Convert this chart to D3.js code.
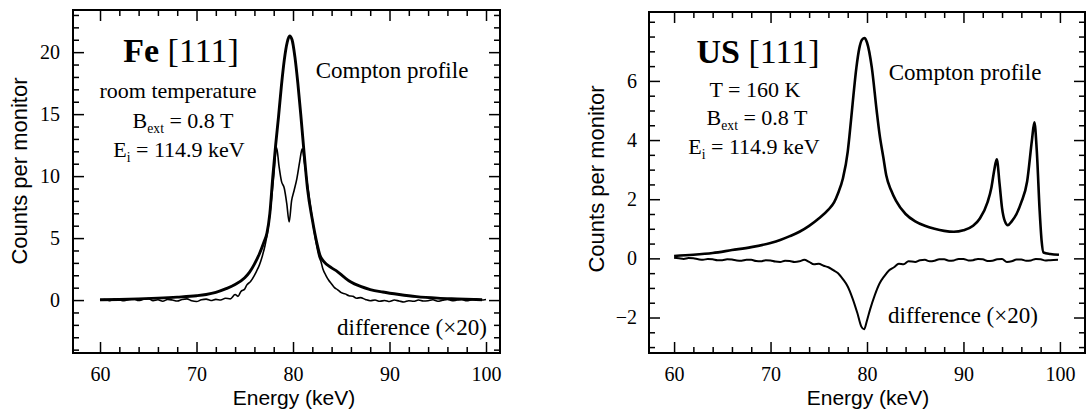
<!DOCTYPE html>
<html>
<head>
<meta charset="utf-8">
<script src="https://cdn.jsdelivr.net/npm/d3@7"></script>
<style>
  body { margin: 0; background: #fff; }
  svg { display: block; }
</style>
</head>
<body>
<svg id="chart" width="1090" height="419"></svg>
<script>
// ---- data: [energy keV, counts per monitor] ----
const feCompton = [
  [60, 0.02], [62, 0.05], [64, 0.1], [66, 0.16], [68, 0.24], [70, 0.35], [71, 0.45],
  [72, 0.62], [73, 0.9], [74, 1.25], [75, 1.8], [75.5, 2.25], [76, 2.9], [76.5, 3.7],
  [77, 4.7], [77.3, 5.4], [77.6, 7.0], [77.9, 9.9], [78.2, 12.5], [78.5, 14.8],
  [78.8, 17.3], [79.1, 19.4], [79.4, 20.8], [79.65, 21.3], [79.9, 21.0], [80.2, 19.6],
  [80.5, 17.5], [80.8, 15.0], [81.1, 12.3], [81.5, 9.0], [82, 6.5], [82.5, 4.5],
  [82.8, 3.6], [83.2, 3.1], [84, 2.6], [84.6, 2.3], [85.3, 1.85], [86, 1.45], [87, 1.1],
  [88, 0.85], [89.3, 0.65], [91, 0.45], [92.8, 0.28], [95, 0.16], [97, 0.1], [99.6, 0.03]
];

const feDifference = [
  [60, 0.0], [60.5, 0.05], [61, -0.05], [61.5, 0.08], [62, 0.0], [62.5, -0.06], [63, 0.05],
  [63.5, 0.1], [64, -0.04], [64.5, 0.06], [65, 0.12], [65.5, -0.05], [66, 0.02], [66.5, -0.1],
  [67, 0.05], [67.5, 0.0], [68, -0.08], [68.5, 0.04], [69, 0.1], [69.5, -0.06], [70, -0.12],
  [70.5, 0.02], [71, 0.08], [71.5, -0.04], [72, 0.06], [72.5, 0.0], [73, 0.15], [73.5, 0.1],
  [74, 0.45], [74.3, 0.3], [74.6, 0.7], [75, 0.9], [75.2, 1.2], [75.6, 1.5], [76, 2.0],
  [76.2, 2.3], [76.5, 2.8], [76.8, 3.5], [77.1, 4.4], [77.4, 5.7], [77.7, 7.6], [78, 10.0],
  [78.3, 12.3], [78.55, 10.8], [78.8, 9.6], [79.1, 9.0], [79.35, 7.8], [79.6, 6.3],
  [79.85, 8.0], [80.1, 8.8], [80.4, 9.8], [80.7, 11.2], [80.95, 12.2], [81.2, 11.0],
  [81.5, 9.3], [81.8, 7.6], [82.1, 6.0], [82.4, 4.6], [82.7, 3.5], [82.9, 3.1], [83.1, 2.5],
  [83.4, 2.0], [83.7, 1.6], [84, 1.3], [84.3, 1.0], [84.6, 0.85], [85, 0.6], [85.4, 0.5],
  [85.8, 0.35], [86.2, 0.3], [86.6, 0.15], [87, 0.2], [87.5, 0.05], [88, -0.05], [88.5, 0.0],
  [89, -0.1], [89.5, -0.03], [90, -0.12], [90.5, 0.0], [91, -0.08], [91.5, -0.15], [92, -0.05],
  [92.5, -0.1], [93, 0.0], [93.5, -0.08], [94, -0.05], [94.5, 0.02], [95, -0.1], [95.5, -0.02],
  [96, 0.05], [96.5, -0.06], [97, 0.0], [97.5, 0.04], [98, -0.05], [98.5, 0.03], [99, 0.08],
  [99.5, 0.0], [100, 0.05]
];

const usCompton = [
  [60, 0.08], [62, 0.12], [64, 0.18], [66, 0.28], [68, 0.38], [70, 0.52], [71, 0.62],
  [72, 0.75], [73, 0.9], [74, 1.1], [75, 1.35], [76, 1.65], [76.6, 1.9], [77, 2.2],
  [77.5, 2.7], [78, 3.6], [78.2, 4.2], [78.5, 5.2], [78.9, 6.45], [79.2, 7.1], [79.5, 7.4],
  [79.75, 7.45], [80, 7.3], [80.5, 6.45], [81, 5.0], [81.3, 4.2], [81.7, 3.4], [82, 2.8],
  [82.5, 2.3], [83, 1.95], [84, 1.5], [85, 1.25], [86, 1.1], [87, 1.0], [88, 0.93], [89, 0.9],
  [90, 0.95], [91, 1.1], [91.7, 1.35], [92.5, 1.9], [92.9, 2.4], [93.2, 3.0], [93.45, 3.35],
  [93.75, 2.5], [94.0, 1.7], [94.3, 1.25], [94.6, 1.12], [95, 1.25], [95.5, 1.5], [96, 1.9],
  [96.6, 2.6], [97.1, 4.0], [97.35, 4.6], [97.6, 3.65], [97.9, 1.6], [98.1, 0.6], [98.3, 0.2],
  [99, 0.15], [99.9, 0.12]
];

const usDifference = [
  [60, 0.02], [60.5, 0.0], [61, -0.02], [61.5, 0.01], [62, 0.0], [62.5, -0.03], [63, -0.05],
  [63.5, -0.02], [64, -0.03], [64.5, -0.06], [65, -0.06], [65.5, -0.03], [66, -0.04],
  [66.5, -0.07], [67, -0.08], [67.5, -0.05], [68, -0.05], [68.5, -0.09], [69, -0.1],
  [69.5, -0.06], [70, -0.07], [70.5, -0.11], [71, -0.12], [71.5, -0.08], [72, -0.09],
  [72.5, -0.12], [73, -0.1], [73.5, -0.05], [74, -0.12], [74.5, -0.2], [75, -0.18],
  [75.5, -0.25], [76, -0.3], [76.5, -0.4], [77, -0.5], [77.5, -0.7], [78, -0.95], [78.5, -1.35],
  [79, -1.85], [79.4, -2.3], [79.7, -2.4], [80, -2.1], [80.3, -1.75], [80.8, -1.25],
  [81.3, -0.85], [81.8, -0.6], [82.3, -0.4], [82.8, -0.3], [83.3, -0.18], [83.8, -0.2],
  [84.3, -0.1], [85, -0.12], [85.5, -0.06], [86, -0.05], [86.5, -0.1], [87, -0.08],
  [87.5, -0.03], [88, -0.03], [88.5, -0.08], [89, -0.07], [89.5, -0.02], [90, -0.02],
  [90.5, -0.07], [91, -0.06], [91.5, -0.02], [92, -0.03], [92.5, -0.09], [93, -0.08],
  [93.5, -0.03], [94, -0.02], [94.5, -0.12], [95, -0.1], [95.5, -0.04], [96, -0.04],
  [96.5, -0.08], [97, -0.07], [97.5, -0.02], [98, -0.03], [98.5, -0.07], [99, -0.06],
  [99.8, -0.05]
];

const xMajorTicks = [60, 70, 80, 90, 100];
const feYMajorTicks = [0, 5, 10, 15, 20];
const usYMajorTicks = [-2, 0, 2, 4, 6];

const serif = "'Liberation Serif', 'Times New Roman', serif";
const sans = "'Liberation Sans', Arial, sans-serif";

function styleAxis(sel) {
  sel.select(".domain").remove();
  sel.selectAll(".tick line").attr("stroke", "#000").attr("stroke-width", 1.5);
  sel.attr("font-family", serif).attr("font-size", 20);
  sel.selectAll("text").attr("fill", "#000");
}

function addLabel(g, x, y, parts, size) {
  const t = g.append("text")
    .attr("x", x)
    .attr("y", y)
    .attr("text-anchor", "middle")
    .attr("font-family", serif)
    .attr("font-size", size)
    .attr("fill", "#000");
  parts.forEach((p) => {
    const s = t.append("tspan").text(p.text);
    if (p.bold) s.attr("font-weight", "bold");
    if (p.sub) s.attr("font-size", size * 0.62).attr("dy", 5);
    if (p.after) s.attr("dy", -5);
  });
}

function drawPanel(svg, p) {
  const x = d3.scaleLinear().domain(p.xDomain).range([p.left, p.right]);
  const y = d3.scaleLinear().domain(p.yDomain).range([p.bottom, p.top]);
  const g = svg.append("g");

  const xMinor = d3.range(60, 101, 2).filter((v) => !xMajorTicks.includes(v));
  const yMinor = d3.range(p.yMinorStart, p.yMinorEnd + 1e-9, p.yMinorStep)
    .filter((v) => !p.yMajor.some((m) => Math.abs(m - v) < 1e-9));

  // bottom
  g.append("g").attr("transform", `translate(0,${p.bottom})`)
    .call(d3.axisBottom(x).tickValues(xMinor).tickSize(-6).tickFormat(""))
    .call(styleAxis);
  g.append("g").attr("transform", `translate(0,${p.bottom})`)
    .call(d3.axisBottom(x).tickValues(xMajorTicks).tickSizeInner(-11).tickSizeOuter(0)
      .tickPadding(14).tickFormat(d3.format("d")))
    .call(styleAxis);
  // top
  g.append("g").attr("transform", `translate(0,${p.top})`)
    .call(d3.axisTop(x).tickValues(xMinor).tickSize(-6).tickFormat(""))
    .call(styleAxis);
  g.append("g").attr("transform", `translate(0,${p.top})`)
    .call(d3.axisTop(x).tickValues(xMajorTicks).tickSize(-11).tickFormat(""))
    .call(styleAxis);
  // left
  g.append("g").attr("transform", `translate(${p.left},0)`)
    .call(d3.axisLeft(y).tickValues(yMinor).tickSize(-6).tickFormat(""))
    .call(styleAxis);
  g.append("g").attr("transform", `translate(${p.left},0)`)
    .call(d3.axisLeft(y).tickValues(p.yMajor).tickSizeInner(-11).tickSizeOuter(0)
      .tickPadding(p.labelGap).tickFormat(d3.format("d")))
    .call(styleAxis);
  // right
  g.append("g").attr("transform", `translate(${p.right},0)`)
    .call(d3.axisRight(y).tickValues(yMinor).tickSize(-6).tickFormat(""))
    .call(styleAxis);
  g.append("g").attr("transform", `translate(${p.right},0)`)
    .call(d3.axisRight(y).tickValues(p.yMajor).tickSize(-11).tickFormat(""))
    .call(styleAxis);

  g.append("rect")
    .attr("x", p.left)
    .attr("y", p.top)
    .attr("width", p.right - p.left)
    .attr("height", p.bottom - p.top)
    .attr("fill", "none")
    .attr("stroke", "#000")
    .attr("stroke-width", 2);

  const line = d3.line()
    .x((d) => x(d[0]))
    .y((d) => y(d[1]))
    .curve(d3.curveMonotoneX);

  g.append("path")
    .datum(p.difference)
    .attr("d", line)
    .attr("fill", "none")
    .attr("stroke", "#000")
    .attr("stroke-width", p.diffWidth)
    .attr("stroke-linejoin", "round");

  g.append("path")
    .datum(p.compton)
    .attr("d", line)
    .attr("fill", "none")
    .attr("stroke", "#000")
    .attr("stroke-width", p.comptonWidth)
    .attr("stroke-linejoin", "round");

  // axis titles
  g.append("text")
    .attr("x", (x(60) + x(100)) / 2 + 1)
    .attr("y", 405)
    .attr("text-anchor", "middle")
    .attr("font-family", sans)
    .attr("font-size", 21)
    .attr("fill", "#000")
    .text("Energy (keV)");

  g.append("text")
    .attr("transform", `translate(${p.yTitleX},${p.yTitleY}) rotate(-90)`)
    .attr("text-anchor", "middle")
    .attr("font-family", sans)
    .attr("font-size", 22)
    .attr("fill", "#000")
    .text("Counts per monitor");

  p.labels.forEach((l) => addLabel(g, l.x, l.y, l.parts, l.size));
}

const svg = d3.select("#chart");

drawPanel(svg, {
  left: 73, right: 500, top: 10, bottom: 353,
  xDomain: [57.2, 101.45],
  yDomain: [-4.27, 23.4],
  yMajor: feYMajorTicks,
  yMinorStart: -4, yMinorEnd: 23, yMinorStep: 1,
  labelGap: 13,
  compton: feCompton,
  difference: feDifference,
  comptonWidth: 2.9,
  diffWidth: 1.6,
  yTitleX: 27, yTitleY: 171,
  labels: [
    { x: 181, y: 62, size: 34, parts: [{ text: "Fe", bold: true }, { text: " [111]" }] },
    { x: 178, y: 98, size: 22, parts: [{ text: "room temperature" }] },
    { x: 183, y: 128, size: 22, parts: [{ text: "B" }, { text: "ext", sub: true }, { text: " = 0.8 T", after: true }] },
    { x: 179, y: 157, size: 22, parts: [{ text: "E" }, { text: "i", sub: true }, { text: " = 114.9 keV", after: true }] },
    { x: 392, y: 78, size: 23, parts: [{ text: "Compton profile" }] },
    { x: 412, y: 335, size: 23, parts: [{ text: "difference (\u00d720)" }] }
  ]
});

drawPanel(svg, {
  left: 649, right: 1085, top: 12, bottom: 353,
  xDomain: [57.4, 102.6],
  yDomain: [-3.2, 8.33],
  yMajor: usYMajorTicks,
  yMinorStart: -3, yMinorEnd: 8, yMinorStep: 0.5,
  labelGap: 12,
  compton: usCompton,
  difference: usDifference,
  comptonWidth: 2.6,
  diffWidth: 2.0,
  yTitleX: 604, yTitleY: 179,
  labels: [
    { x: 758, y: 63, size: 34, parts: [{ text: "US", bold: true }, { text: " [111]" }] },
    { x: 755, y: 97, size: 22, parts: [{ text: "T = 160 K" }] },
    { x: 757, y: 125, size: 22, parts: [{ text: "B" }, { text: "ext", sub: true }, { text: " = 0.8 T", after: true }] },
    { x: 754, y: 154, size: 22, parts: [{ text: "E" }, { text: "i", sub: true }, { text: " = 114.9 keV", after: true }] },
    { x: 965, y: 80, size: 23, parts: [{ text: "Compton profile" }] },
    { x: 963, y: 323, size: 23, parts: [{ text: "difference (\u00d720)" }] }
  ]
});
</script>
</body>
</html>
